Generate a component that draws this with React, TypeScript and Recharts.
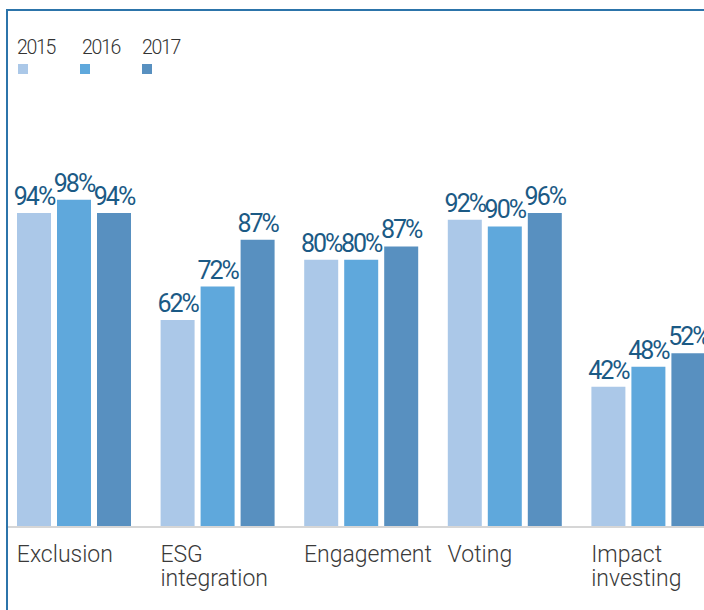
import React from 'react';
import { Bar, BarChart, LabelList, XAxis, YAxis } from 'recharts';

const categories = ['Exclusion', 'ESG\nintegration', 'Engagement', 'Voting', 'Impact\ninvesting'];
const years = ['2015', '2016', '2017'];
// printed percentages
const labels2015 = [94, 62, 80, 92, 42];
const labels2016 = [98, 72, 80, 90, 48];
const labels2017 = [94, 87, 87, 96, 52];
// bar heights as drawn in the source graphic (a few 2017 bars are drawn shorter than their label)
const values2015 = [94, 62, 80, 92, 42];
const values2016 = [98, 72, 80, 90, 48];
const values2017 = [94, 86, 84, 94, 52];
const colors = ['#abc8e8', '#5fa8dc', '#5890c0'];

const data = categories.map((name, i) => ({
  name,
  y2015: values2015[i],
  y2016: values2016[i],
  y2017: values2017[i],
  l2015: labels2015[i],
  l2016: labels2016[i],
  l2017: labels2017[i],
}));

const FONT = 'Roboto, "Noto Sans", sans-serif';

function CategoryTick({ x, y, payload }: any) {
  const lines = String(payload.value).split('\n');
  return (
    <text x={x - 57} y={y} fill="#3a3a3a" fontFamily={FONT} fontWeight={300} fontSize={23}>
      {lines.map((line, i) => (
        <tspan key={i} x={x - 57} dy={i === 0 ? 27 : 24}>
          {line}
        </tspan>
      ))}
    </text>
  );
}

function YearLegend() {
  const pos = [
    { tx: 17, sx: 18 },
    { tx: 82, sx: 80 },
    { tx: 142, sx: 142 },
  ];
  return (
    <div style={{ position: 'absolute', left: 0, top: 0, width: 200, height: 80 }}>
      {years.map((yr, i) => (
        <React.Fragment key={yr}>
          <div
            style={{
              position: 'absolute',
              left: pos[i].tx,
              top: 37,
              fontFamily: FONT,
              fontWeight: 300,
              fontSize: 19.5,
              letterSpacing: -1.3,
              color: '#333',
              lineHeight: '22px',
            }}
          >
            {yr}
          </div>
          <div
            style={{
              position: 'absolute',
              left: pos[i].sx,
              top: 64,
              width: 10,
              height: 10,
              background: colors[i],
            }}
          />
        </React.Fragment>
      ))}
    </div>
  );
}

const labelProps = {
  position: 'top' as const,
  offset: 8,
  formatter: (v: any) => `${v}%`,
  fill: '#1b5a85',
  fontFamily: FONT,
  fontSize: 25,
  letterSpacing: -2,
};

export default function App() {
  return (
    <div style={{ position: 'absolute', left: 0, top: 0, width: 704, height: 610, overflow: 'hidden', background: '#fff' }}>
      <div
        style={{
          position: 'absolute',
          left: 6,
          top: 9,
          width: 800,
          height: 700,
          borderLeft: '2px solid #2c74aa',
          borderTop: '2px solid #2c74aa',
          overflow: 'hidden',
        }}
      >
        <div style={{ position: 'absolute', left: -8, top: -11 }}>
          <BarChart
            width={740}
            height={610}
            data={data}
            margin={{ top: 193, right: 20, bottom: 23, left: 2 }}
            barSize={34}
            barGap={6}
          >
            <XAxis
              dataKey="name"
              height={60}
              tickLine={false}
              axisLine={{ stroke: '#d6d6d6', strokeWidth: 2 }}
              tick={<CategoryTick />}
              interval={0}
            />
            <YAxis hide domain={[0, 100]} />
            <Bar dataKey="y2015" fill={colors[0]} isAnimationActive={false}>
              <LabelList dataKey="l2015" {...labelProps} />
            </Bar>
            <Bar dataKey="y2016" fill={colors[1]} isAnimationActive={false}>
              <LabelList dataKey="l2016" {...labelProps} />
            </Bar>
            <Bar dataKey="y2017" fill={colors[2]} isAnimationActive={false}>
              <LabelList dataKey="l2017" {...labelProps} />
            </Bar>
          </BarChart>
          <YearLegend />
        </div>
      </div>
    </div>
  );
}
